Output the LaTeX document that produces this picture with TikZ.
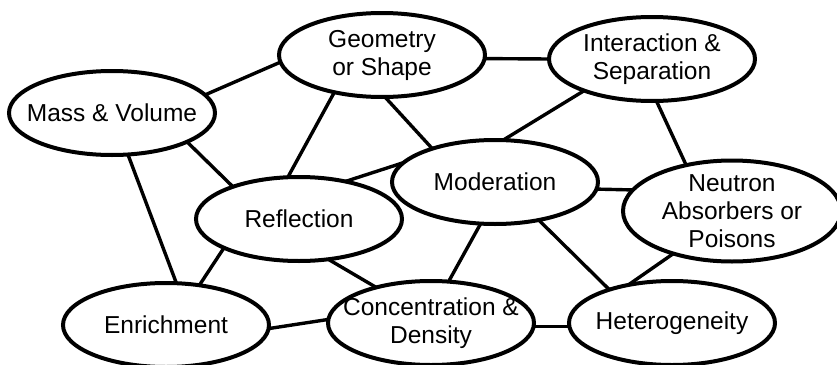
\documentclass[tikz,border=0pt]{standalone}
\usepackage{fontspec}
\setmainfont{Liberation Sans}
\usetikzlibrary{shapes.geometric,backgrounds}
\begin{document}
\begin{tikzpicture}[x=1pt,y=-1pt,
  oval/.style={ellipse, draw, line width=4pt, fill=white,
    minimum width=206pt, minimum height=84pt, inner sep=0pt, outer sep=0pt},
  lbl/.style={align=center, inner sep=0pt, font=\fontsize{24.5}{28}\selectfont},
  link/.style={line width=3.4pt}]
\useasboundingbox (0,0) rectangle (837,364);

\node[oval] (mass)  at (112,113) {};
\node[oval] (geom)  at (382,55)  {};
\node[oval] (inter) at (652,59)  {};
\node[oval] (moder) at (495,182) {};
\node[oval, minimum width=218pt, minimum height=101pt] (neut) at (732,211) {};
\node[oval] (refl)  at (299,219) {};
\node[oval] (enr)   at (166,325) {};
\node[oval] (conc)  at (431,323) {};
\node[oval] (het)   at (672,323) {};

\node[lbl] (massT)  at (mass)  {Mass \& Volume};
\node[lbl] (geomT)  at (geom)  {Geometry\\or Shape};
\node[lbl] (interT) at (inter) {Interaction \&\\Separation};
\node[lbl] (moderT) at (moder) {Moderation};
\node[lbl] (neutT)  at (neut)  {Neutron\\Absorbers or\\Poisons};
\node[lbl] (reflT)  at (refl)  {Reflection};
\node[lbl] (enrT)   at (enr)   {Enrichment};
\node[lbl] (concT)  at (conc)  {Concentration \&\\Density};
\node[lbl] (hetT)   at (het)   {Heterogeneity};

\begin{scope}[on background layer]
\draw[link] (mass.11)   -- (geom.184);
\draw[link] (mass.-21)  -- (refl.154);
\draw[link] (mass.-69)  -- (enr.76);
\draw[link] (geom.218)  -- (refl.105);
\draw[link] (geom.274)  -- (moder.152);
\draw[link] (geom.358)  -- (inter.180);
\draw[link] (inter.205) -- (moder.79);
\draw[link] (inter.276) -- (neut.135);
\draw[link] (moder.168) -- (refl.39);
\draw[link] (moder.-4)  -- (neut.168);
\draw[link] (moder.251) -- (conc.67);
\draw[link] (moder.319) -- (het.152);
\draw[link] (neut.216)  -- (het.139);
\draw[link] (refl.201)  -- (enr.50);
\draw[link] (refl.306)  -- (conc.147);
\draw[link] (enr.-2)    -- (conc.178);
\draw[link] (conc.-2)   -- (het.182);
\end{scope}
\end{tikzpicture}
\end{document}
